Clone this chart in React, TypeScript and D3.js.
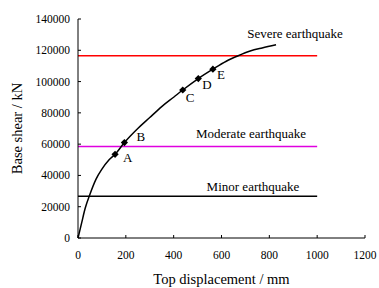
import * as d3 from 'd3';

// Pushover curve (top displacement mm, base shear kN)
const curveDisp = [0, 15, 30, 50, 75, 100, 130, 155, 194, 250, 300, 350, 400, 438, 503, 564, 620, 670, 720, 770, 828];
const curveShear = [0, 9500, 19000, 28000, 37500, 44000, 50000, 53500, 61000, 70000, 77000, 84000, 90000, 94600, 101900, 107900, 113000, 116500, 119500, 121500, 123500];

// Marked performance points
const pointLabels = ['A', 'B', 'C', 'D', 'E'];
const pointDisp = [155, 194, 438, 503, 564];
const pointShear = [53500, 61000, 94600, 101900, 107900];

// Earthquake demand levels
const levelNames = ['Minor earthquake', 'Moderate earthquake', 'Severe earthquake'];
const levelShear = [26700, 58500, 116500];
const levelColors = ['#000000', '#e000e0', '#ff0000'];

const xTicks = [0, 200, 400, 600, 800, 1000, 1200];
const yTicks = [0, 20000, 40000, 60000, 80000, 100000, 120000, 140000];

const W = 379;
const H = 288;
const margin = { left: 78, right: 14, top: 19, bottom: 50 };

export default function App() {
  const x = d3.scaleLinear().domain([0, 1200]).range([margin.left, W - margin.right]);
  const y = d3.scaleLinear().domain([0, 140000]).range([H - margin.bottom, margin.top]);

  const line = d3
    .line<number>()
    .x((d, i) => x(curveDisp[i]))
    .y((d, i) => y(curveShear[i]))
    .curve(d3.curveMonotoneX);

  const font = 'Liberation Serif';
  const marker = d3.symbol(d3.symbolSquare, 26)() || '';

  // label offsets relative to each marked point
  const labelOffsets = [
    [8, 8],
    [12, -2],
    [3, 12],
    [4, 10],
    [4, 10],
  ];

  return (
    <svg width={W} height={H} fontFamily={font} style={{ position: 'absolute', left: 0, top: 0 }}>
      <rect width={W} height={H} fill="#fff" />

      {/* demand lines */}
      {levelShear.map((v, i) => (
        <line key={i} x1={x(0)} x2={x(1000)} y1={y(v)} y2={y(v)} stroke={levelColors[i]} strokeWidth={1.4} />
      ))}
      <text x={253} y={191} fontSize={13} fill="#000" textAnchor="middle">{levelNames[0]}</text>
      <text x={251} y={138} fontSize={13} fill="#000" textAnchor="middle">{levelNames[1]}</text>
      <text x={295} y={38} fontSize={13} fill="#000" textAnchor="middle">{levelNames[2]}</text>

      {/* axes */}
      <line x1={x(0)} x2={x(0)} y1={y(0)} y2={y(140000)} stroke="#000" strokeWidth={1} />
      <line x1={x(0)} x2={x(1200)} y1={y(0)} y2={y(0)} stroke="#000" strokeWidth={1} />
      {yTicks.map(t => (
        <g key={t}>
          <line x1={x(0)} x2={x(0) + 3} y1={y(t)} y2={y(t)} stroke="#000" />
          <text x={x(0) - 8} y={y(t) + 4} fontSize={11.5} textAnchor="end">{t}</text>
        </g>
      ))}
      {xTicks.map(t => (
        <g key={t}>
          <line x1={x(t)} x2={x(t)} y1={y(0)} y2={y(0) - 3} stroke="#000" />
          <text x={x(t)} y={y(0) + 21} fontSize={11.5} textAnchor="middle">{t}</text>
        </g>
      ))}
      <text x={x(600)} y={284} fontSize={14.5} textAnchor="middle">Top displacement / mm</text>
      <text transform={`translate(22,${(y(0) + y(140000)) / 2}) rotate(-90)`} fontSize={14.5} textAnchor="middle">
        Base shear / kN
      </text>

      {/* pushover curve */}
      <path d={line(curveDisp) || ''} fill="none" stroke="#000" strokeWidth={1.5} />

      {/* points */}
      {pointDisp.map((d, i) => (
        <g key={i}>
          <path d={marker} transform={`translate(${x(d)},${y(pointShear[i])}) rotate(45)`} fill="#000" />
          <text
            x={x(d) + labelOffsets[i][0]}
            y={y(pointShear[i]) + labelOffsets[i][1]}
            fontSize={13}
          >
            {pointLabels[i]}
          </text>
        </g>
      ))}
    </svg>
  );
}
